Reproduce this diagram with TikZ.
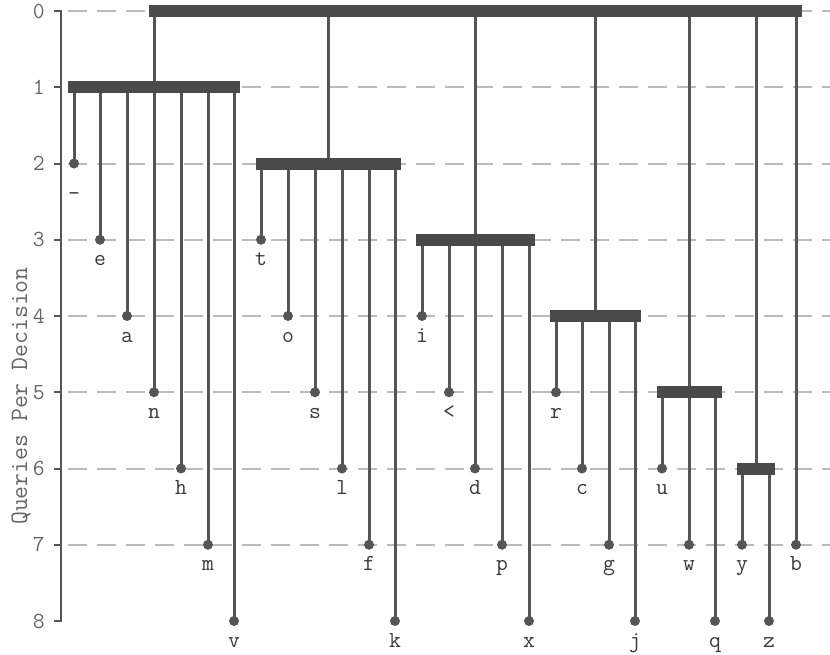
\documentclass[tikz,border=0pt]{standalone}
\usepackage{fontspec}
\definecolor{barcol}{HTML}{4A4A4A}
\definecolor{stemcol}{HTML}{555555}
\definecolor{txtcol}{HTML}{3A3A3A}
\definecolor{tickcol}{HTML}{666666}
\definecolor{gridcol}{HTML}{BBBBBB}
\pgfdeclarelayer{gridlayer}
\pgfdeclarelayer{stemlayer}
\pgfsetlayers{gridlayer,stemlayer,main}
\tikzset{
  barbox/.style={fill=barcol, inner sep=0pt, minimum height=12pt, anchor=center},
  stem/.style={draw=stemcol, line width=3pt},
  leafdot/.style={circle, fill=stemcol, inner sep=0pt, minimum size=10pt},
  leaflabel/.style={anchor=base, inner sep=0pt, text=txtcol, font=\ttfamily\fontsize{23}{26}\selectfont},
  ticklabel/.style={anchor=base east, inner sep=0pt, text=tickcol, font=\ttfamily\fontsize{23}{26}\selectfont},
  gridline/.style={draw=gridcol, line width=2pt, dash pattern=on 19pt off 10pt},
  axisline/.style={draw=stemcol, line width=2pt}
}
\begin{document}
\begin{tikzpicture}[x=1pt,y=-1pt]
\useasboundingbox (0,0) rectangle (830,654);
% grid and axis
\begin{pgfonlayer}{gridlayer}
\foreach \l in {0,...,7}{
  \pgfmathsetmacro\yy{11+76.25*\l}
  \draw[gridline] (68,\yy) -- (830,\yy);
}
\end{pgfonlayer}
\draw[axisline] (54,11) -- (61,11) -- (61,621) -- (54,621);
\foreach \l in {0,...,8}{
  \pgfmathsetmacro\yy{11+76.25*\l}
  \draw[axisline] (54,\yy) -- (61,\yy);
  \node[ticklabel] (t\l) at (45,\yy+7) {\l};
}
\node[text=tickcol, font=\ttfamily\fontsize{25}{28}\selectfont, rotate=90, inner sep=0pt] (ylab) at (21,396) {Queries Per Decision};
% bars
\node[barbox, minimum width=653pt] (top) at (475.5,11) {};
\node[barbox, minimum width=172pt] (g1) at (154,87.25) {};
\node[barbox, minimum width=145pt] (g2) at (328.5,163.5) {};
\node[barbox, minimum width=119pt] (g3) at (475.5,239.75) {};
\node[barbox, minimum width=91pt] (g4) at (595.5,316) {};
\node[barbox, minimum width=65pt] (g5) at (689.5,392.25) {};
\node[barbox, minimum width=38pt] (g6) at (756,468.5) {};
\begin{pgfonlayer}{stemlayer}
\foreach \g in {g1,g2,g3,g4,g5,g6}{
  \draw[stem] (\g.center) -- (\g.center |- top.center);
}
\end{pgfonlayer}
% leaves
\foreach \n/\x/\l/\t/\b in {
  lunder/74/2/\char"5F/g1, le/100/3/e/g1, la/127/4/a/g1, ln/154/5/n/g1, lh/181/6/h/g1, lm/208/7/m/g1, lv/234/8/v/g1,
  lt/261/3/t/g2, lo/288/4/o/g2, ls/315/5/s/g2, ll/342/6/l/g2, lf/369/7/f/g2, lk/395/8/k/g2,
  li/422/4/i/g3, llt/449/5/<{}/g3, ld/475/6/d/g3, lp/502/7/p/g3, lx/529/8/x/g3,
  lr/556/5/r/g4, lc/582/6/c/g4, lg/609/7/g/g4, lj/635/8/j/g4,
  lu/662/6/u/g5, lw/689/7/w/g5, lq/715/8/q/g5,
  ly/742/7/y/g6, lz/769/8/z/g6,
  lb/796/7/b/top}{
  \pgfmathsetmacro\yy{11+76.25*\l}
  \node[leafdot] (\n) at (\x,\yy) {};
  \node[leaflabel] (\n-txt) at (\x,\yy+26) {\t};
  \begin{pgfonlayer}{stemlayer}
  \draw[stem] (\n.center) -- (\n.center |- \b.center);
  \end{pgfonlayer}
}
\end{tikzpicture}
\end{document}
